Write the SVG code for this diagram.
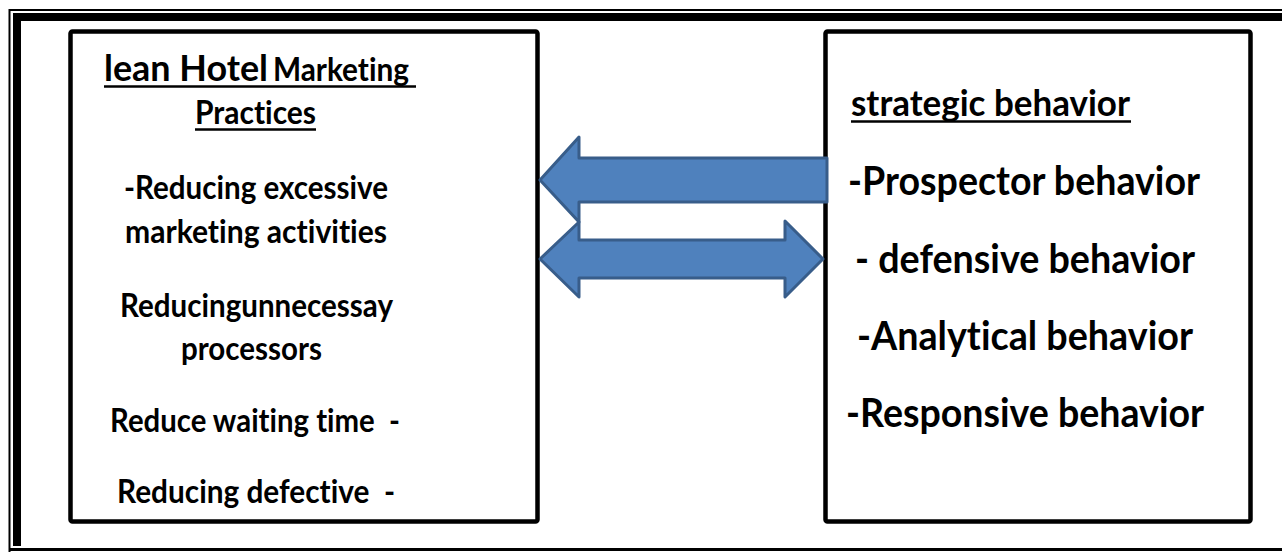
<svg xmlns="http://www.w3.org/2000/svg" width="1282" height="552" viewBox="0 0 1282 552">
  <style>
    .frame-thin { fill: none; stroke: #000; stroke-width: 2; }
    .frame-thick { fill: none; stroke: #000; stroke-width: 8; }
    .box { fill: #fff; stroke: #000; stroke-width: 4.5; }
    .arrow { fill: #4F81BD; stroke: #385D8A; stroke-width: 3; stroke-linejoin: round; }
    text { font-family: Lato, "Open Sans", "Liberation Sans", sans-serif; font-weight: bold; fill: #000; font-variant-ligatures: none; white-space: pre; }
    .body { font-size: 32px; }
    .head { font-size: 37px; }
    .item { font-size: 40px; }
    .uline { stroke: #000; stroke-width: 2.5; }
  </style>

  <rect width="1282" height="552" fill="#fff"/>

  <!-- page frame: thin outer rule plus thick inner rule on top and left, single rule at the bottom -->
  <g id="frame">
    <polyline class="frame-thin" points="9.5,552 9.5,10 1282,10"/>
    <polyline class="frame-thick" points="17,546 17,17 1282,17"/>
    <line x1="9" y1="549.5" x2="1282" y2="549.5" stroke="#000" stroke-width="3"/>
  </g>

  <!-- left node: lean hotel marketing practices -->
  <g id="lean-practices">
    <rect class="box" x="70.5" y="31.5" width="467" height="490" rx="2"/>
    <text x="104" y="81"><tspan class="head" textLength="164" lengthAdjust="spacingAndGlyphs">lean Hotel</tspan><tspan class="body" x="273" textLength="136" lengthAdjust="spacingAndGlyphs">Marketing</tspan></text>
    <line class="uline" x1="104" y1="86.5" x2="416" y2="86.5"/>
    <text class="body" x="195" y="124" textLength="121" lengthAdjust="spacingAndGlyphs">Practices</text>
    <line class="uline" x1="195" y1="129.5" x2="316" y2="129.5"/>
    <text class="body" x="124" y="199" textLength="264" lengthAdjust="spacingAndGlyphs">-Reducing excessive</text>
    <text class="body" x="125" y="243" textLength="262" lengthAdjust="spacingAndGlyphs">marketing activities</text>
    <text class="body" x="120" y="317" textLength="273" lengthAdjust="spacingAndGlyphs">Reducingunnecessay</text>
    <text class="body" x="181" y="360" textLength="141" lengthAdjust="spacingAndGlyphs">processors</text>
    <text class="body" x="110" y="432" textLength="290" lengthAdjust="spacingAndGlyphs">Reduce waiting time  -</text>
    <text class="body" x="117" y="503" textLength="278" lengthAdjust="spacingAndGlyphs">Reducing defective  -</text>
  </g>

  <!-- right node: strategic behavior -->
  <g id="strategic-behavior">
    <rect class="box" x="825.5" y="31.5" width="425" height="490" rx="2"/>
    <text class="head" x="851" y="116" textLength="279" lengthAdjust="spacingAndGlyphs">strategic behavior</text>
    <line class="uline" x1="851" y1="121.5" x2="1131" y2="121.5"/>
    <text class="item" x="848" y="195" textLength="352" lengthAdjust="spacingAndGlyphs">-Prospector behavior</text>
    <text class="item" x="855" y="273" textLength="340" lengthAdjust="spacingAndGlyphs">- defensive behavior</text>
    <text class="item" x="857" y="350" textLength="336" lengthAdjust="spacingAndGlyphs">-Analytical behavior</text>
    <text class="item" x="846" y="427" textLength="358" lengthAdjust="spacingAndGlyphs">-Responsive behavior</text>
  </g>

  <!-- connectors: block arrows between the two nodes -->
  <g id="connectors">
    <path class="arrow" d="M540,180 L579,137 L579,158 L827,158 L827,202 L579,202 L579,222 Z"/>
    <path class="arrow" d="M540,259 L579,222 L579,240 L785,240 L785,221 L823,259 L785,297 L785,278 L579,278 L579,297 Z"/>
  </g>
</svg>
